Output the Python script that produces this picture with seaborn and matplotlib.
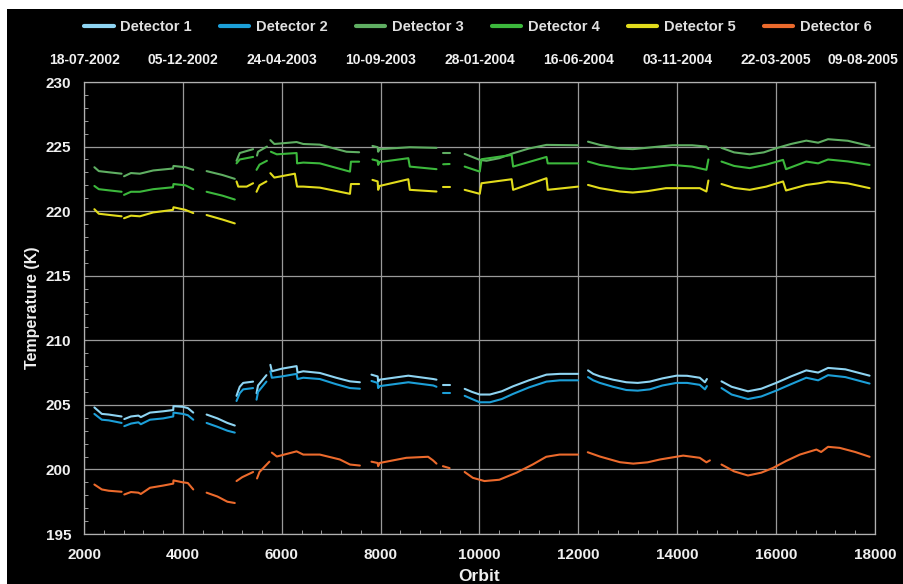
import numpy as np
import pandas as pd
import matplotlib
matplotlib.use("Agg")
import matplotlib.pyplot as plt
from matplotlib.patches import Rectangle
import seaborn as sns

# each detector: list of data segments, each segment is (orbit, temperature K) pairs
det1 = [
    [(2210, 204.8), (2360, 204.3), (2500, 204.25), (2760, 204.1)],
    [(2815, 203.9), (2950, 204.1), (3100, 204.17), (3150, 204.05), (3335, 204.4), (3600, 204.5),
     (3805, 204.6), (3810, 204.9), (4000, 204.85), (4100, 204.75), (4210, 204.4)],
    [(4480, 204.25), (4700, 203.95), (4900, 203.6), (5050, 203.4)],
    [(5085, 205.7), (5150, 206.4), (5220, 206.7), (5420, 206.8)],
    [(5490, 205.9), (5520, 206.5), (5690, 207.3)],
    [(5770, 208.1), (5800, 207.6), (6000, 207.8), (6300, 208.0), (6320, 207.5), (6435, 207.6),
     (6770, 207.47), (7100, 207.1), (7380, 206.82), (7580, 206.75)],
    [(7815, 207.34), (7940, 207.2), (7950, 206.8), (7980, 206.95), (8560, 207.26), (9065, 207.0), (9130, 206.95)],
    [(9260, 206.5), (9395, 206.5)],
    [(9700, 206.24), (9850, 206.0), (10005, 205.8), (10210, 205.8), (10450, 206.05), (10680, 206.44),
     (11000, 206.9), (11355, 207.34), (11625, 207.4), (11995, 207.4)],
    [(12195, 207.67), (12300, 207.4), (12434, 207.21), (12700, 206.95), (12970, 206.75), (13200, 206.7),
     (13445, 206.8), (13700, 207.05), (13985, 207.26), (14200, 207.25), (14455, 207.1), (14560, 206.75), (14600, 207.0)],
    [(14895, 206.82), (15100, 206.4), (15430, 206.05), (15700, 206.25), (16000, 206.7), (16300, 207.2),
     (16610, 207.67), (16850, 207.5), (17050, 207.86), (17400, 207.75), (17890, 207.26)],
]
det2 = [
    [(2210, 204.3), (2360, 203.85), (2500, 203.8), (2760, 203.6)],
    [(2815, 203.35), (2950, 203.55), (3100, 203.65), (3150, 203.5), (3335, 203.85), (3600, 203.95),
     (3805, 204.1), (3810, 204.4), (4000, 204.3), (4100, 204.2), (4210, 203.85)],
    [(4480, 203.6), (4700, 203.3), (4900, 203.0), (5050, 202.85)],
    [(5085, 205.3), (5150, 205.9), (5220, 206.2), (5420, 206.3)],
    [(5490, 205.4), (5520, 206.0), (5690, 206.8)],
    [(5770, 207.6), (5800, 207.1), (6000, 207.2), (6300, 207.4), (6320, 207.0), (6435, 207.1),
     (6770, 207.0), (7100, 206.6), (7380, 206.3), (7580, 206.25)],
    [(7815, 206.85), (7940, 206.7), (7950, 206.3), (7980, 206.45), (8560, 206.75), (9065, 206.5), (9130, 206.4)],
    [(9260, 205.9), (9395, 205.9)],
    [(9700, 205.7), (9850, 205.45), (10005, 205.2), (10210, 205.2), (10450, 205.45), (10680, 205.85),
     (11000, 206.35), (11355, 206.8), (11625, 206.9), (11995, 206.9)],
    [(12195, 207.15), (12300, 206.9), (12434, 206.7), (12700, 206.4), (12970, 206.15), (13200, 206.1),
     (13445, 206.2), (13700, 206.5), (13985, 206.7), (14200, 206.7), (14455, 206.55), (14560, 206.2), (14600, 206.45)],
    [(14895, 206.3), (15100, 205.8), (15430, 205.45), (15700, 205.65), (16000, 206.1), (16300, 206.6),
     (16610, 207.1), (16850, 206.9), (17050, 207.3), (17400, 207.15), (17890, 206.65)],
]
det3 = [
    [(2210, 223.4), (2300, 223.1), (2525, 223.0), (2760, 222.9)],
    [(2810, 222.7), (2950, 222.95), (3130, 222.9), (3400, 223.15), (3800, 223.3), (3810, 223.5),
     (4050, 223.4), (4210, 223.2)],
    [(4480, 223.1), (4800, 222.8), (5050, 222.5)],
    [(5085, 223.9), (5150, 224.5), (5420, 224.8)],
    [(5500, 224.3), (5520, 224.6), (5700, 225.0)],
    [(5770, 225.5), (5850, 225.2), (6300, 225.35), (6435, 225.2), (6770, 225.15), (7310, 224.6), (7565, 224.56)],
    [(7835, 225.05), (7940, 224.95), (7950, 224.6), (7980, 224.8), (8590, 224.95), (9130, 224.9)],
    [(9265, 224.53), (9395, 224.53)],
    [(9700, 224.43), (10005, 223.97), (10140, 223.9), (10400, 224.1), (10680, 224.48), (11000, 224.85),
     (11355, 225.13), (11995, 225.1)],
    [(12195, 225.38), (12434, 225.13), (12840, 224.85), (13100, 224.8), (13500, 224.95), (13900, 225.1),
     (14300, 225.1), (14590, 225.0), (14630, 224.8)],
    [(14895, 224.9), (15150, 224.55), (15465, 224.4), (15750, 224.55), (16000, 224.87), (16300, 225.2),
     (16610, 225.46), (16850, 225.3), (17050, 225.57), (17450, 225.45), (17890, 225.05)],
]
det4 = [
    [(2210, 221.95), (2300, 221.7), (2525, 221.6), (2760, 221.5)],
    [(2810, 221.26), (2950, 221.5), (3130, 221.5), (3400, 221.7), (3800, 221.85), (3810, 222.1),
     (4050, 222.0), (4210, 221.7)],
    [(4480, 221.5), (4800, 221.2), (5050, 220.9)],
    [(5085, 223.7), (5150, 224.0), (5420, 224.2)],
    [(5490, 223.2), (5550, 223.6), (5700, 223.9)],
    [(5780, 224.6), (5900, 224.4), (6300, 224.5), (6310, 223.7), (6435, 223.76), (6770, 223.7),
     (7380, 223.06), (7400, 223.83), (7565, 223.83)],
    [(7835, 224.0), (7940, 223.9), (7950, 223.58), (7980, 223.8), (8560, 224.1), (8590, 223.45), (9130, 223.25)],
    [(9265, 223.63), (9395, 223.65)],
    [(9700, 223.45), (10005, 223.06), (10040, 224.02), (10650, 224.35), (10680, 223.45), (11355, 224.2),
     (11380, 223.7), (11995, 223.7)],
    [(12195, 223.84), (12434, 223.58), (12840, 223.33), (13100, 223.25), (13500, 223.4), (13900, 223.58),
     (14300, 223.45), (14590, 223.2), (14630, 224.0)],
    [(14895, 223.84), (15150, 223.5), (15465, 223.33), (15800, 223.6), (16140, 223.97), (16200, 223.25),
     (16610, 223.84), (16850, 223.7), (17050, 224.0), (17450, 223.85), (17890, 223.58)],
]
det5 = [
    [(2210, 220.15), (2300, 219.8), (2525, 219.7), (2760, 219.6)],
    [(2810, 219.45), (2950, 219.65), (3130, 219.6), (3400, 219.9), (3800, 220.1), (3810, 220.3),
     (4050, 220.1), (4210, 219.85)],
    [(4480, 219.7), (4800, 219.35), (5050, 219.05)],
    [(5085, 222.3), (5120, 221.9), (5290, 221.9), (5420, 222.16)],
    [(5490, 221.5), (5550, 222.0), (5690, 222.3)],
    [(5770, 222.94), (5850, 222.6), (6265, 222.9), (6310, 221.9), (6435, 221.9), (6770, 221.82),
     (7380, 221.34), (7400, 222.1), (7565, 222.1)],
    [(7835, 222.42), (7940, 222.3), (7950, 221.65), (7980, 221.95), (8560, 222.47), (8590, 221.65), (9130, 221.52)],
    [(9265, 221.9), (9395, 221.9)],
    [(9700, 221.65), (10005, 221.34), (10040, 222.16), (10650, 222.47), (10680, 221.65), (11355, 222.55),
     (11380, 221.65), (11995, 221.9)],
    [(12195, 222.03), (12434, 221.78), (12840, 221.52), (13100, 221.44), (13400, 221.55), (13770, 221.78),
     (14455, 221.78), (14590, 221.52), (14630, 222.37)],
    [(14895, 222.1), (15150, 221.8), (15465, 221.65), (15800, 221.9), (16140, 222.3), (16200, 221.6),
     (16610, 222.03), (16850, 222.15), (17050, 222.29), (17450, 222.15), (17890, 221.78)],
]
det6 = [
    [(2210, 198.83), (2360, 198.45), (2500, 198.35), (2760, 198.27)],
    [(2815, 198.06), (2950, 198.25), (3100, 198.2), (3150, 198.1), (3335, 198.58), (3600, 198.75),
     (3805, 198.9), (3810, 199.15), (4000, 199.0), (4100, 198.95), (4210, 198.45)],
    [(4480, 198.2), (4700, 197.9), (4900, 197.5), (5050, 197.4)],
    [(5085, 199.1), (5200, 199.4), (5420, 199.8)],
    [(5500, 199.3), (5550, 199.8), (5750, 200.6)],
    [(5800, 201.3), (5900, 201.0), (6300, 201.4), (6435, 201.15), (6770, 201.15), (7175, 200.77),
     (7380, 200.38), (7580, 200.3)],
    [(7815, 200.6), (7940, 200.5), (7950, 200.25), (7980, 200.5), (8520, 200.9), (8960, 200.98),
     (9060, 200.7), (9130, 200.45)],
    [(9260, 200.25), (9395, 200.1)],
    [(9700, 199.8), (9865, 199.35), (10100, 199.1), (10400, 199.2), (10750, 199.75), (11075, 200.38),
     (11350, 200.98), (11620, 201.15), (11990, 201.15)],
    [(12190, 201.33), (12434, 201.0), (12840, 200.56), (13110, 200.45), (13400, 200.55), (13650, 200.77),
     (14120, 201.07), (14455, 200.9), (14590, 200.55), (14660, 200.7)],
    [(14895, 200.38), (15150, 199.85), (15430, 199.53), (15700, 199.75), (15940, 200.12), (16200, 200.65),
     (16480, 201.15), (16815, 201.54), (16910, 201.35), (17050, 201.75), (17285, 201.67), (17600, 201.35),
     (17890, 200.98)],
]

detectors = ["Detector 1", "Detector 2", "Detector 3", "Detector 4", "Detector 5", "Detector 6"]
colors = ["#8ed4f2", "#1c9fd8", "#5fae62", "#3cb83c", "#e2dc1c", "#ec6a2c"]

orbit_ticks = [2000, 4000, 6000, 8000, 10000, 12000, 14000, 16000, 18000]
date_labels = ["18-07-2002", "05-12-2002", "24-04-2003", "10-09-2003", "28-01-2004",
               "16-06-2004", "03-11-2004", "22-03-2005", "09-08-2005"]
temp_ticks = [195, 200, 205, 210, 215, 220, 225, 230]

# long table for seaborn
rows = []
for name, segs in zip(detectors, [det1, det2, det3, det4, det5, det6]):
    for s, seg in enumerate(segs):
        for o, t in seg:
            rows.append({"detector": name, "seg": s, "orbit": o, "temp": t})
df = pd.DataFrame(rows)

sns.set_style("dark")
plt.rcParams["font.family"] = ["Liberation Sans", "DejaVu Sans"]
plt.rcParams["font.weight"] = "bold"

fig = plt.figure(figsize=(9.04, 5.84), dpi=100)
fig.patch.set_facecolor("white")
fig.add_artist(Rectangle((7 / 904, 0), 1, 1 - 9 / 584, transform=fig.transFigure,
                         facecolor="black", edgecolor="none", zorder=-10))
ax = fig.add_axes([84 / 904, 1 - 534 / 584, (875 - 84) / 904, (534 - 82) / 584])
ax.set_facecolor("black")

sns.lineplot(data=df, x="orbit", y="temp", hue="detector", units="seg", estimator=None,
             sort=False, palette=colors, hue_order=detectors, linewidth=1.5, ax=ax)

ax.set_xlim(2000, 18000)
ax.set_ylim(195, 230)
ax.set_xticks(orbit_ticks)
ax.set_yticks(temp_ticks)
ax.set_xticks(np.arange(2000, 18001, 400), minor=True)
ax.set_yticks(np.arange(195, 231, 1), minor=True)
ax.grid(True, which="major", color="#9a9a9a", linewidth=0.9)
ax.grid(False, which="minor")
for sp in ax.spines.values():
    sp.set_visible(True)
    sp.set_color("#b0b0b0")
    sp.set_linewidth(0.9)
ax.tick_params(which="both", direction="in", colors="#b0b0b0", labelcolor="#f0f0f0",
               labelsize=11, bottom=True, left=True)
ax.tick_params(which="major", length=0)
ax.tick_params(which="minor", length=3)
ax.tick_params(axis="y", pad=9)
ax.tick_params(axis="x", pad=10)
for lab in ax.get_xticklabels() + ax.get_yticklabels():
    lab.set_fontweight("bold")

ax.set_xlabel("Orbit", color="#f0f0f0", fontsize=12.5, fontweight="bold", labelpad=5)
ax.set_ylabel("Temperature (K)", color="#f0f0f0", fontsize=11.5, fontweight="bold", labelpad=4)

# date labels above the plot, one per orbit tick
for o, d in zip(orbit_ticks, date_labels):
    dx = -12 if o == orbit_ticks[-1] else 0
    ax.annotate(d, xy=(o, 1), xycoords=("data", "axes fraction"), xytext=(dx, 22),
                textcoords="offset pixels", ha="center", va="center", color="#f0f0f0",
                fontsize=10, fontweight="bold", annotation_clip=False)

handles, labels = ax.get_legend_handles_labels()
ax.get_legend().remove()
for h in handles:
    h.set_linewidth(3)
leg = fig.legend(handles, labels, loc="center", bbox_to_anchor=(478 / 904, 1 - 27 / 584), ncol=6,
                 frameon=False, fontsize=10.5, handlelength=2.0, columnspacing=1.95, handletextpad=0.45)
for t in leg.get_texts():
    t.set_color("#e0e0e0")

fig.savefig("out.png", dpi=100, facecolor=fig.get_facecolor())
